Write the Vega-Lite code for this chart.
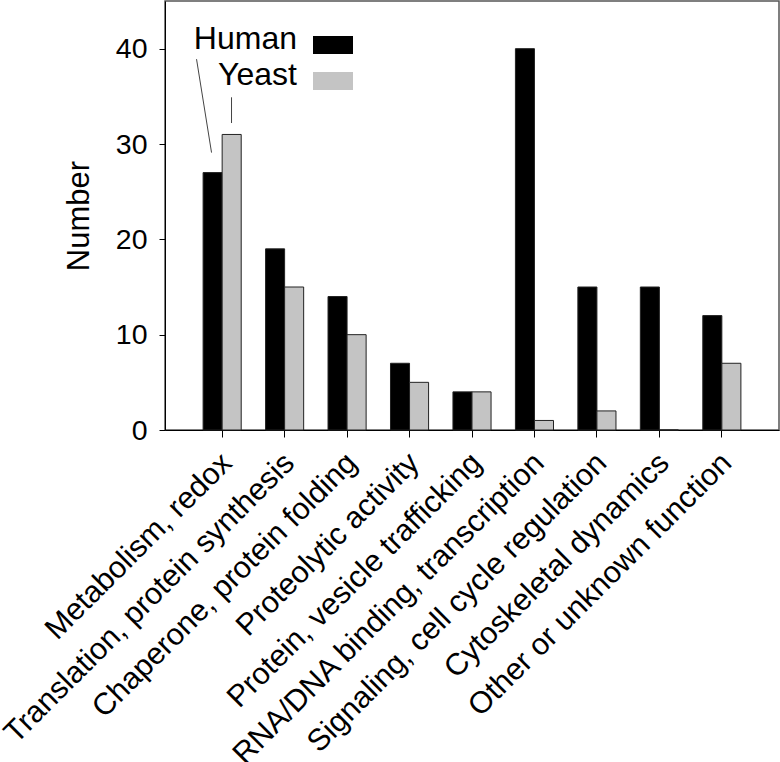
{
  "$schema": "https://vega.github.io/schema/vega-lite/v6.json",
  "width": 614,
  "height": 429,
  "autosize": {"type": "none"},
  "padding": {"left": 165, "top": 1, "right": 1, "bottom": 332},
  "background": "white",
  "config": {
    "font": "Liberation Sans",
    "view": {"stroke": "#555555", "strokeWidth": 1.5},
    "axis": {"domainColor": "black", "tickColor": "black", "labelColor": "black", "titleColor": "black", "grid": false, "domainWidth": 1, "tickWidth": 1}
  },
  "layer": [
    {
      "data": {
        "values": [
          {"category": "Metabolism, redox", "species": "Human", "value": 27},
          {"category": "Metabolism, redox", "species": "Yeast", "value": 31},
          {"category": "Translation, protein synthesis", "species": "Human", "value": 19},
          {"category": "Translation, protein synthesis", "species": "Yeast", "value": 15},
          {"category": "Chaperone, protein folding", "species": "Human", "value": 14},
          {"category": "Chaperone, protein folding", "species": "Yeast", "value": 10},
          {"category": "Proteolytic activity", "species": "Human", "value": 7},
          {"category": "Proteolytic activity", "species": "Yeast", "value": 5},
          {"category": "Protein, vesicle trafficking", "species": "Human", "value": 4},
          {"category": "Protein, vesicle trafficking", "species": "Yeast", "value": 4},
          {"category": "RNA/DNA binding, transcription", "species": "Human", "value": 40},
          {"category": "RNA/DNA binding, transcription", "species": "Yeast", "value": 1},
          {"category": "Signaling, cell cycle regulation", "species": "Human", "value": 15},
          {"category": "Signaling, cell cycle regulation", "species": "Yeast", "value": 2},
          {"category": "Cytoskeletal dynamics", "species": "Human", "value": 15},
          {"category": "Cytoskeletal dynamics", "species": "Yeast", "value": 0},
          {"category": "Other or unknown function", "species": "Human", "value": 12},
          {"category": "Other or unknown function", "species": "Yeast", "value": 7}
        ]
      },
      "mark": {"type": "bar", "stroke": "#222222", "strokeWidth": 1},
      "encoding": {
        "x": {
          "field": "category", "type": "nominal", "sort": null,
          "scale": {"paddingInner": 0.39, "paddingOuter": 0.61},
          "axis": {"title": null, "labelAngle": -45, "labelAlign": "right", "labelBaseline": "middle", "labelFontSize": 30.5, "labelLimit": 1000, "tickSize": 7, "labelPadding": 21, "labelOffset": 5}
        },
        "xOffset": {"field": "species", "type": "nominal", "sort": ["Human", "Yeast"]},
        "y": {
          "field": "value", "type": "quantitative",
          "scale": {"domain": [0, 45], "nice": false},
          "axis": {"title": "Number", "titleFontSize": 31, "titleFontWeight": "normal", "titlePadding": 20, "labelFontSize": 28.5, "values": [0, 10, 20, 30, 40], "tickSize": 6, "labelPadding": 12}
        },
        "color": {
          "field": "species", "type": "nominal",
          "scale": {"domain": ["Human", "Yeast"], "range": ["#000000", "#c4c4c4"]},
          "legend": {
            "title": null, "orient": "none", "legendX": 148, "legendY": 18,
            "symbolType": "M-1,-0.15H1V0.75H-1Z", "symbolSize": 1600,
            "symbolStrokeWidth": 0, "symbolOpacity": 1,
            "labelFontSize": 32, "labelAlign": "right", "labelOffset": -56, "labelColor": "black",
            "rowPadding": -3
          }
        }
      }
    },
    {
      "data": {
        "values": [
          {"line": "human", "xi": -0.41, "value": 38.9},
          {"line": "human", "xi": -0.17, "value": 29.1},
          {"line": "yeast", "xi": 0.15, "value": 34.9},
          {"line": "yeast", "xi": 0.15, "value": 32.2}
        ]
      },
      "mark": {"type": "line", "color": "#444444", "strokeWidth": 1},
      "encoding": {
        "x": {"field": "xi", "type": "quantitative", "scale": {"domain": [-0.915, 8.915], "nice": false, "zero": false}, "axis": {"labels": false, "ticks": false, "domain": false, "title": null, "grid": false}},
        "y": {"field": "value", "type": "quantitative"},
        "detail": {"field": "line"}
      }
    }
  ],
  "resolve": {"scale": {"x": "independent"}}
}
